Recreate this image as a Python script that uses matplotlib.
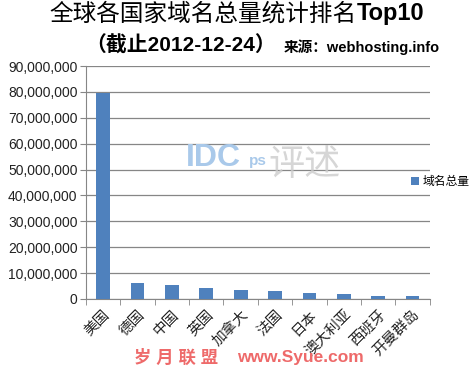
import matplotlib.pyplot as plt
from matplotlib.ticker import FuncFormatter, MultipleLocator
import numpy as np

plt.rcParams['font.family'] = ['Liberation Sans', 'Noto Sans CJK SC']

countries = ["美国", "德国", "中国", "英国", "加拿大", "法国", "日本", "澳大利亚", "西班牙", "开曼群岛"]
domains = [79400000, 6300000, 5600000, 4400000, 3500000, 3200000, 2500000, 2100000, 1200000, 1100000]
series_name = "域名总量"

fig = plt.figure(figsize=(4.77, 3.68), dpi=100)
ax = fig.add_axes([0.180, 0.1875, 0.721, 0.633])

x = np.arange(len(countries))
ax.bar(x, domains, width=0.4, color="#4f81bd", label=series_name, zorder=3)

ax.set_xlim(-0.5, len(countries) - 0.5)
ax.set_ylim(0, 90000000)
ax.yaxis.set_major_locator(MultipleLocator(10000000))
ax.yaxis.set_major_formatter(FuncFormatter(lambda v, p: f"{int(v):,}"))
ax.grid(axis="y", color="#868686", linewidth=0.9, zorder=0)

# category labels at centres, tick marks at the boundaries
ax.set_xticks(x)
ax.set_xticklabels(countries, rotation=45, ha="right", rotation_mode="anchor",
                   fontsize=10.5, color="#222222")
ax.set_xticks(np.arange(-0.5, len(countries)), minor=True)
ax.tick_params(axis="x", which="major", length=0, pad=6)
ax.tick_params(axis="x", which="minor", length=4, color="#868686", direction="out")
ax.tick_params(axis="y", length=4, color="#868686", labelsize=10, labelcolor="#222222", pad=2)

for s in ["top", "right"]:
    ax.spines[s].set_visible(False)
for s in ["left", "bottom"]:
    ax.spines[s].set_color("#868686")

fig.legend(loc="center left", bbox_to_anchor=(0.862, 0.505), frameon=False,
           fontsize=8.5, handlelength=0.7, handleheight=0.7, handletextpad=0.3,
           borderpad=0, borderaxespad=0)

# titles
fig.text(0.748, 0.962, "全球各国家域名总量统计排名", fontsize=17, ha="right", va="center")
fig.text(0.748, 0.962, "Top10", fontsize=17, fontweight="bold", ha="left", va="center")
fig.text(0.178, 0.875, "（截止2012-12-24）", fontsize=15, fontweight="bold", ha="left", va="center")
fig.text(0.595, 0.873, "来源：webhosting.info", fontsize=10.5, fontweight="bold", ha="left", va="center")

# watermarks
fig.text(0.39, 0.57, "IDC", fontsize=23, color="#a9c9ea", fontweight="bold", ha="left", va="center")
fig.text(0.522, 0.562, "ps", fontsize=11, color="#a9c9ea", fontweight="bold", ha="left", va="center")
fig.text(0.562, 0.55, "评述", fontsize=26, color="#cccccc", alpha=0.8, ha="left", va="center")
fig.text(0.28, 0.028, "岁 月 联 盟", fontsize=12.5, color="#ee6a6a", fontweight="bold", ha="left", va="center")
fig.text(0.497, 0.028, "www.Syue.com", fontsize=12.5, color="#ee6a6a", fontweight="bold", ha="left", va="center")

fig.savefig("out.png", dpi=100)
